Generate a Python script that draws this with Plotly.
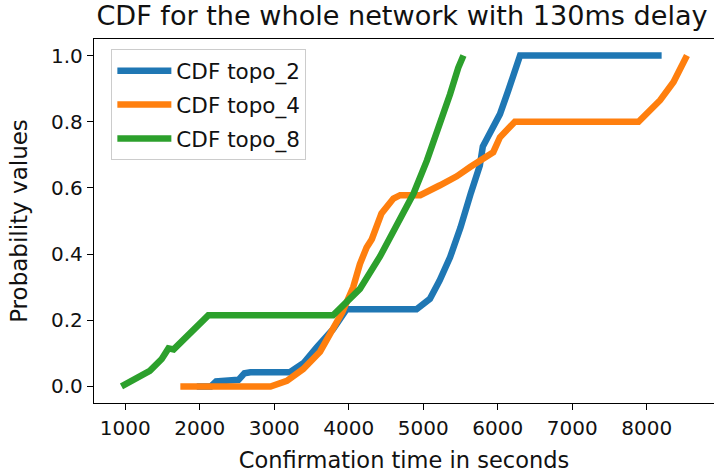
import plotly.graph_objects as go

# ---- data ----
topo2_x = [1960, 2150, 2220, 2520, 2600, 2680, 3210, 3400, 3570, 3790, 3970,
           4910, 5090, 5220, 5360, 5500, 5640, 5760, 5800, 5900, 6030, 6140,
           6230, 6300, 8200]
topo2_y = [0.0, 0.0, 0.015, 0.02, 0.04, 0.043, 0.043, 0.072, 0.118, 0.173,
           0.233, 0.233, 0.265, 0.32, 0.39, 0.48, 0.585, 0.668, 0.725, 0.765,
           0.823, 0.893, 0.963, 1.0, 1.0]

topo4_x = [1740, 2950, 3170, 3390, 3615, 3790, 3915, 4060, 4150, 4240, 4310,
           4440, 4600, 4690, 4960, 5225, 5450, 5630, 5940, 6030, 6230, 7890,
           8180, 8360, 8540]
topo4_y = [0.0, 0.0, 0.017, 0.053, 0.105, 0.17, 0.225, 0.30, 0.37, 0.42,
           0.445, 0.523, 0.568, 0.578, 0.578, 0.608, 0.635, 0.663, 0.708,
           0.753, 0.80, 0.80, 0.865, 0.92, 1.0]

topo8_x = [950, 1110, 1330, 1490, 1580, 1650, 1825, 2115, 3790, 3900, 4030,
           4150, 4420, 4690, 4870, 5050, 5225, 5360, 5470, 5540]
topo8_y = [0.0, 0.02, 0.047, 0.083, 0.115, 0.112, 0.153, 0.215, 0.215, 0.24,
           0.265, 0.295, 0.393, 0.503, 0.583, 0.683, 0.793, 0.883, 0.963, 1.0]

names = ["CDF topo_2", "CDF topo_4", "CDF topo_8"]
colors = ["#1f77b4", "#ff7f0e", "#2ca02c"]
x_ticks = [1000, 2000, 3000, 4000, 5000, 6000, 7000, 8000]
y_ticks = [0.0, 0.2, 0.4, 0.6, 0.8, 1.0]

FONT = "DejaVu Sans"

fig = go.Figure()
for i, (xs, ys) in enumerate([(topo2_x, topo2_y), (topo4_x, topo4_y), (topo8_x, topo8_y)]):
    fig.add_trace(go.Scatter(
        x=xs, y=ys, mode="lines", name=names[i], legendgroup=names[i],
        line=dict(color=colors[i], width=6.5),
    ))

fig.update_layout(
    width=714, height=473,
    margin=dict(l=94, r=0, t=39, b=70, autoexpand=False),
    plot_bgcolor="white", paper_bgcolor="white",
    font=dict(family=FONT, size=20, color="#111111"),
    title=dict(text="CDF for the whole network with 130ms delay",
               x=402 / 714, xanchor="center", y=1 - 16 / 473, yanchor="middle",
               font=dict(size=27.1, family=FONT, color="#111111")),
    showlegend=True,
    legend=dict(x=0.028, y=0.972, xanchor="left", yanchor="top",
                bgcolor="rgba(255,255,255,0.8)", bordercolor="#cccccc",
                borderwidth=1, font=dict(size=21.5, family=FONT),
                tracegroupgap=3, itemwidth=54),
)
fig.update_xaxes(
    range=[581, 8903], tickvals=x_ticks, ticktext=[str(t) for t in x_ticks],
    showgrid=False, zeroline=False, showline=True, linecolor="black",
    linewidth=1.3, mirror=True, ticks="outside", ticklen=6, tickwidth=1.3,
    tickcolor="black", tickfont=dict(size=20), automargin=False,
    ticklabelstandoff=1,
    title=dict(text="Confirmation time in seconds", font=dict(size=22.5), standoff=13),
)
fig.update_yaxes(
    range=[-0.05, 1.05], tickvals=y_ticks, ticktext=[f"{t:.1f}" for t in y_ticks],
    showgrid=False, zeroline=False, showline=True, linecolor="black",
    linewidth=1.3, ticks="outside", ticklen=6, tickwidth=1.3,
    tickcolor="black", tickfont=dict(size=20), automargin=False,
    title=dict(text="Probability values", font=dict(size=23), standoff=16),
)

fig.write_html("out.html", config={"displayModeBar": False},
               post_script="document.body.style.margin='0';document.body.style.padding='0';")
